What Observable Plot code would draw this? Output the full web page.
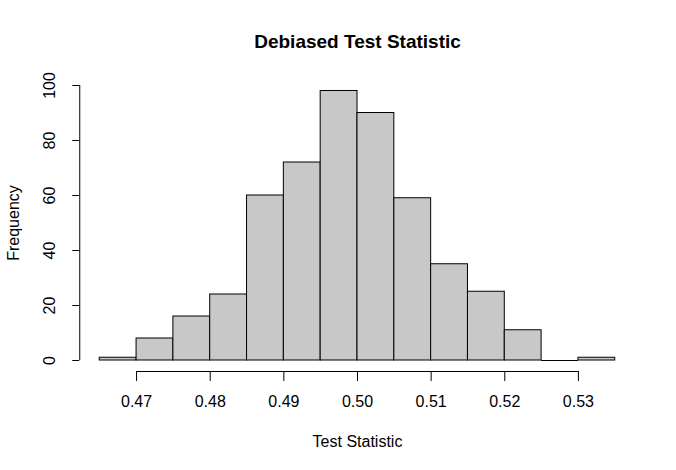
<!DOCTYPE html>
<html>
<head>
<meta charset="utf-8">
<script src="https://cdn.jsdelivr.net/npm/d3@7"></script>
<script src="https://cdn.jsdelivr.net/npm/@observablehq/plot@0.6"></script>
<style>
  html, body { margin: 0; padding: 0; background: #fff; }
  svg { display: block; }
</style>
</head>
<body>
<div id="chart"></div>
<script>
// Histogram bins (left edges), width 0.005
const binStarts = [0.465, 0.470, 0.475, 0.480, 0.485, 0.490, 0.495, 0.500, 0.505, 0.510, 0.515, 0.520, 0.525, 0.530];
const binWidth = 0.005;
const counts = [1, 8, 16, 24, 60, 72, 98, 90, 59, 35, 25, 11, 0, 1];
const xTicks = [0.47, 0.48, 0.49, 0.50, 0.51, 0.52, 0.53];
const yTicks = [0, 20, 40, 60, 80, 100];
const title = "Debiased Test Statistic";
const xLabel = "Test Statistic";
const yLabel = "Frequency";

const bins = binStarts.map((s, i) => ({x1: s, x2: s + binWidth, count: counts[i]}));
const font = "'Liberation Sans', Arial, Helvetica, sans-serif";
const xMin = binStarts[0], xMax = binStarts[binStarts.length - 1] + binWidth;

const chart = Plot.plot({
  width: 676,
  height: 470,
  marginLeft: 99.25,
  marginRight: 61.25,
  marginTop: 85,
  marginBottom: 110,
  style: {fontFamily: font, background: "#fff", color: "#000"},
  x: {domain: [xMin, xMax], axis: null},
  y: {domain: [0, 100], axis: null},
  marks: [
    Plot.rectY(bins.filter(b => b.count > 0), {x1: "x1", x2: "x2", y1: 0, y2: "count", fill: "#c8c8c8", stroke: "#000", strokeWidth: 1}),
    // zero-height bins drawn as flat outline
    Plot.ruleY(bins.filter(b => b.count === 0), {x1: "x1", x2: "x2", y: "count", stroke: "#000", strokeWidth: 1}),
    // x axis line
    Plot.ruleY([0], {x1: xTicks[0], x2: xTicks[xTicks.length - 1], dy: 11, stroke: "#000"}),
    // x ticks
    Plot.ruleX(xTicks, {x: d => d, y1: 0, y2: 0, insetBottom: -10, dy: 11, stroke: "#000"}),
    // x tick labels
    Plot.text(xTicks, {x: d => d, frameAnchor: "bottom", dy: 46, lineAnchor: "bottom", text: d => d3.format(".2f")(d), fontSize: 16, fill: "#000"}),
    // y axis line
    Plot.ruleX([xMin], {y1: yTicks[0], y2: yTicks[yTicks.length - 1], dx: -20, stroke: "#000"}),
    // y ticks
    Plot.ruleY(yTicks, {y: d => d, x1: xMin, x2: xMin, insetLeft: -7, dx: -20, stroke: "#000"}),
    // y tick labels
    Plot.text(yTicks, {y: d => d, frameAnchor: "left", dx: -45, rotate: -90, lineAnchor: "bottom", textAnchor: "middle", text: d => String(d), fontSize: 16, fill: "#000"}),
    // titles
    Plot.text([title], {frameAnchor: "top", dy: -38, lineAnchor: "bottom", textAnchor: "middle", text: d => d, fontSize: 19, fontWeight: "bold", fill: "#000"}),
    Plot.text([xLabel], {frameAnchor: "bottom", dy: 86, lineAnchor: "bottom", textAnchor: "middle", text: d => d, fontSize: 16, fill: "#000"}),
    Plot.text([yLabel], {frameAnchor: "left", dx: -86, rotate: -90, lineAnchor: "middle", textAnchor: "middle", text: d => d, fontSize: 16, fill: "#000"})
  ]
});
document.getElementById("chart").appendChild(chart);
</script>
</body>
</html>
